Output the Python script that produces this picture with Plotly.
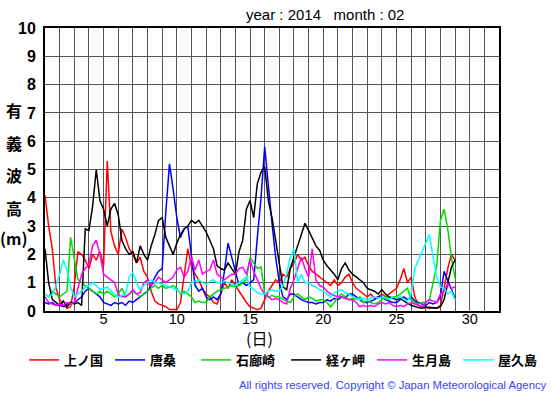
import plotly.graph_objects as go

# 6-hourly values, from day 1.00 to day 29.00 (113 points)
station_names = ["上ノ国", "唐桑", "石廊崎", "経ヶ岬", "生月島", "屋久島"]
station_colors = ["#ff0000", "#0000ff", "#00dd00", "#000000", "#ff00ff", "#00ffff"]

kaminokuni = [4.1, 3.0, 2.2, 0.8,
              0.4, 0.2, 0.1, 0.15,
              0.9, 2.1, 2.0, 1.8,
              1.5, 2.0, 1.8, 2.1,
              1.6, 5.3, 2.8, 2.3,
              2.0, 2.9, 2.6, 2.2,
              2.0, 1.7, 1.9, 1.4,
              1.2, 0.7, 0.35, 0.25,
              0.2, 0.15, 0.05, 0.05,
              0.05, 0.3, 1.3, 2.2,
              1.6, 1.3, 1.1, 0.8,
              0.6, 0.5, 0.3, 0.25,
              0.6, 1.0, 0.8, 1.1,
              0.9, 0.7, 0.5, 0.3,
              0.15, 0.1, 0.05, 0.1,
              0.4, 0.7, 0.9, 1.1,
              1.0, 1.3, 1.2, 1.5,
              1.7, 2.0, 1.8, 1.9,
              1.6, 1.4, 1.3, 1.2,
              1.1, 1.0, 0.9, 1.1,
              0.9, 1.0, 1.2, 1.3,
              1.0, 0.8, 0.7, 0.6,
              0.5, 0.6, 0.45, 0.5,
              0.6, 0.5, 0.6, 0.7,
              0.8, 1.1, 1.5, 1.0,
              1.2, 0.5, 0.2, 0.15,
              0.1, 0.15, 0.1, 0.1,
              0.2, 0.8, 1.5, 2.0,
              1.8]

karakuwa = [0.3, 0.25, 0.3, 0.2,
            0.2, 0.15, 0.25, 0.3,
            0.3, 0.4, 0.5, 0.7,
            0.8, 0.7, 0.6, 0.5,
            0.3, 0.25, 0.2, 0.3,
            0.25, 0.3, 0.2, 0.35,
            0.3, 0.4, 0.5, 0.6,
            0.7, 0.9, 1.2, 1.4,
            1.5, 3.5, 5.2, 4.3,
            3.3, 2.6, 2.9, 3.0,
            2.0, 0.9, 0.7, 0.8,
            0.5, 0.4, 0.5, 0.4,
            0.6, 1.4, 2.4, 1.9,
            1.3, 0.9, 1.0, 0.9,
            1.0, 1.1, 2.6, 4.0,
            5.8, 4.4, 3.1, 1.9,
            1.0, 0.5, 0.4, 0.6,
            0.6, 0.5, 0.4, 0.35,
            0.3, 0.3, 0.25, 0.3,
            0.3, 0.4, 0.35, 0.45,
            0.4, 0.5, 0.45, 0.6,
            0.6, 0.5, 0.4, 0.3,
            0.3, 0.35, 0.4, 0.5,
            0.5, 0.4, 0.35, 0.3,
            0.3, 0.4, 0.5, 0.4,
            0.5, 0.35, 0.3, 0.25,
            0.2, 0.3, 0.25, 0.3,
            0.5, 1.4, 1.1, 0.75,
            0.45]

irozaki = [0.6, 0.5, 0.7, 0.6,
           0.5, 0.6, 0.7, 2.6,
           1.9, 1.1, 1.0, 0.9,
           0.8, 0.7, 0.6, 0.7,
           0.6, 0.7, 0.6, 0.5,
           0.6, 0.8, 0.5, 0.6,
           0.7, 0.6, 0.5, 0.6,
           0.7, 0.8, 0.9, 0.8,
           0.9, 0.8, 0.85, 0.9,
           0.8, 0.6, 0.7, 0.6,
           0.5, 0.3, 0.35, 0.3,
           0.3, 0.5, 0.6, 0.7,
           0.75, 0.8, 0.85, 0.9,
           0.85, 0.9, 1.0, 1.1,
           1.9, 1.7, 1.5, 1.55,
           0.6, 0.5, 0.55, 0.5,
           0.5, 0.4, 0.35, 0.3,
           0.5, 0.6, 0.5, 0.4,
           0.5, 0.45, 0.35, 0.4,
           0.4, 0.3, 0.15, 0.3,
           0.5, 0.6, 0.5, 0.4,
           0.45, 0.4, 0.5, 0.3,
           0.35, 0.3, 0.25, 0.3,
           0.4, 0.5, 0.45, 0.5,
           0.5, 0.6, 0.7, 0.8,
           0.4, 0.3, 0.25, 0.3,
           0.3, 0.4, 1.0, 1.6,
           3.2, 3.6, 2.9, 1.9,
           1.15]

kyogamisaki = [2.2, 1.0, 0.4, 0.3,
               0.2, 0.35, 0.15, 0.3,
               0.25, 0.3, 0.2, 2.9,
               2.85, 3.7, 5.0, 3.9,
               3.6, 3.0, 3.6, 3.8,
               3.4, 2.5, 2.2, 2.0,
               2.1, 1.7, 2.3, 2.0,
               1.8, 2.3, 2.7, 3.2,
               3.3, 2.6, 2.3, 2.0,
               2.4, 2.7, 2.9, 3.0,
               3.2, 3.1, 3.2, 3.0,
               2.8, 2.5, 2.2, 1.6,
               1.5, 1.45, 1.7, 1.5,
               1.3, 2.1, 2.5, 3.6,
               3.9, 3.3, 4.5, 4.9,
               5.1, 3.9, 3.3, 2.5,
               1.7, 0.85, 0.75, 1.5,
               1.9, 2.3, 2.7, 3.1,
               2.85, 2.6, 2.3, 2.15,
               1.8, 1.6, 1.45, 1.3,
               1.1, 1.5, 1.7, 1.45,
               1.3, 1.2, 1.1, 1.0,
               0.8, 0.75, 0.7, 0.6,
               0.75, 0.6, 0.5, 0.45,
               0.4, 0.45, 0.35, 0.27,
               0.2, 0.15, 0.12, 0.1,
               0.15, 0.1, 0.12, 0.1,
               0.15, 0.4, 0.95, 1.55,
               1.8]

ikitsukishima = [0.5, 0.3, 0.25, 0.2,
                 0.25, 0.2, 0.3, 0.25,
                 0.3, 0.8, 1.3, 1.5,
                 1.65, 2.3, 2.5, 2.0,
                 1.3, 1.2, 1.1, 1.0,
                 0.6, 0.5, 0.5, 0.6,
                 0.75, 0.6, 0.65, 1.0,
                 1.1, 0.9, 1.0, 1.2,
                 1.1, 1.0, 1.1, 1.2,
                 1.45, 1.55, 1.2, 1.4,
                 1.9, 1.45, 1.8, 1.3,
                 1.4, 1.45, 1.8, 1.3,
                 1.2, 1.1, 1.2, 1.3,
                 1.3, 1.5, 1.55, 1.3,
                 1.8, 1.4, 1.1, 0.8,
                 0.6, 0.5, 0.4, 0.45,
                 0.4, 0.3, 0.25, 0.8,
                 1.1, 1.5, 1.9, 1.5,
                 1.2, 2.2, 1.1, 0.9,
                 0.85, 0.7, 0.6, 0.55,
                 0.5, 0.5, 0.45, 0.4,
                 0.4, 0.3, 0.15, 0.2,
                 0.15, 0.2, 0.15, 0.25,
                 0.3, 0.25, 0.3, 0.2,
                 0.15, 0.2, 0.15, 0.25,
                 0.3, 0.25, 0.2, 0.15,
                 0.3, 0.4, 0.35, 0.3,
                 0.6, 0.7, 0.95, 0.8,
                 0.85]

yakushima = [0.6, 0.5, 0.6, 0.9,
             1.3, 1.8, 1.45, 0.85,
             0.5, 0.6, 0.7, 0.85,
             0.9, 1.0, 0.9, 0.75,
             0.8, 0.85, 0.7, 0.6,
             0.5, 0.55, 0.6, 1.2,
             1.35, 1.0, 0.75, 0.9,
             1.0, 1.1, 1.0, 1.0,
             0.95, 0.9, 0.85, 0.8,
             0.75, 0.65, 0.6, 0.7,
             1.0, 1.05, 1.1, 1.0,
             0.95, 1.05, 1.1, 1.0,
             1.0, 1.05, 1.0, 0.95,
             0.9, 1.0, 1.1, 1.2,
             0.85, 0.75, 0.65, 0.6,
             0.6, 0.7, 0.75, 0.7,
             0.7, 0.9, 1.3, 1.9,
             2.2, 1.0, 1.3, 1.0,
             1.0, 0.9, 0.85, 0.75,
             0.7, 0.6, 0.5, 0.65,
             0.7, 0.75, 0.65, 0.6,
             0.5, 0.45, 0.4, 0.45,
             0.4, 0.45, 0.5, 0.45,
             0.5, 0.45, 0.4, 0.5,
             0.45, 0.5, 0.4, 0.35,
             0.6, 1.5, 1.8, 2.15,
             2.4, 2.7, 1.9, 1.2,
             0.85, 0.8, 0.6, 0.7,
             0.4]

hours = list(range(0, 673, 6))
days = [1 + h / 24 for h in hours]

x_tick_vals = [5, 10, 15, 20, 25, 30]
y_tick_vals = list(range(0, 11))

series = [kaminokuni, karakuwa, irozaki, kyogamisaki, ikitsukishima, yakushima]

fig = go.Figure()
for i, (name, color, vals) in enumerate(zip(station_names, station_colors, series)):
    fig.add_trace(go.Scatter(x=days, y=vals, mode="lines", name=name,
                             legend="legend" if i < 3 else "legend2",
                             line=dict(color=color, width=1.5)))

JP = "Noto Sans CJK JP"
LAT = "Liberation Sans, Arial, sans-serif"

L, R, T, B = 45, 56, 28, 84
PW, PH = 555 - L - R, 395 - T - B


def px_ann(text, x, y, font, xanchor="center"):
    return dict(text=text, xref="paper", yref="paper",
                x=(x - L) / PW, y=(395 - B - y) / PH,
                xanchor=xanchor, yanchor="middle", showarrow=False, font=font)


anns = [
    px_ann("year : 2014   month : 02", 325, 14, dict(family=LAT, size=15, color="black")),
    px_ann("(日)", 259, 338, dict(family=JP, size=16, color="black")),
    px_ann("All rights reserved. Copyright © Japan Meteorological Agency", 549, 385,
           dict(family=LAT, size=11.3, color="#3344ff"), xanchor="right"),
]
ylabel = [("有", 110), ("義", 143), ("波", 175), ("高", 208), ("(m)", 238)]
for ch, yy in ylabel:
    anns.append(px_ann(ch, 14, yy, dict(family=JP, size=16, color="black", weight="bold")))

leg_common = dict(orientation="h", xref="paper", xanchor="left", yref="paper",
                  y=-0.12, yanchor="top",
                  font=dict(family=JP, size=13, color="black", weight="bold"),
                  entrywidth=41, entrywidthmode="pixels",
                  itemwidth=30, tracegroupgap=0, bgcolor="rgba(0,0,0,0)")

fig.update_layout(
    width=555, height=395,
    margin=dict(l=L, r=R, t=T, b=B, autoexpand=False),
    paper_bgcolor="white", plot_bgcolor="white",
    showlegend=True,
    legend=dict(x=-0.046, **leg_common),
    legend2=dict(x=0.531, **leg_common),
    xaxis=dict(range=[1, 32], tickvals=x_tick_vals, showgrid=True, automargin=False,
               gridcolor="#555555", gridwidth=1,
               minor=dict(dtick=1, tick0=0, showgrid=True, gridcolor="#555555", gridwidth=1),
               showline=True, linecolor="black", linewidth=2, mirror=True,
               ticks="", zeroline=False, ticklabelstandoff=-6,
               tickfont=dict(family=LAT, size=14.5, color="black")),
    yaxis=dict(range=[0, 10], tickvals=y_tick_vals, showgrid=True, automargin=False,
               gridcolor="#555555", gridwidth=1,
               showline=True, linecolor="black", linewidth=2, mirror=True,
               ticks="", zeroline=False, ticklabelstandoff=4,
               tickfont=dict(family=LAT, size=16, color="black", weight="bold")),
    annotations=anns,
)

fig.write_html("out.html", config={"displayModeBar": False, "staticPlot": True},
               post_script="document.body.style.margin='0';document.body.style.overflow='hidden';")
